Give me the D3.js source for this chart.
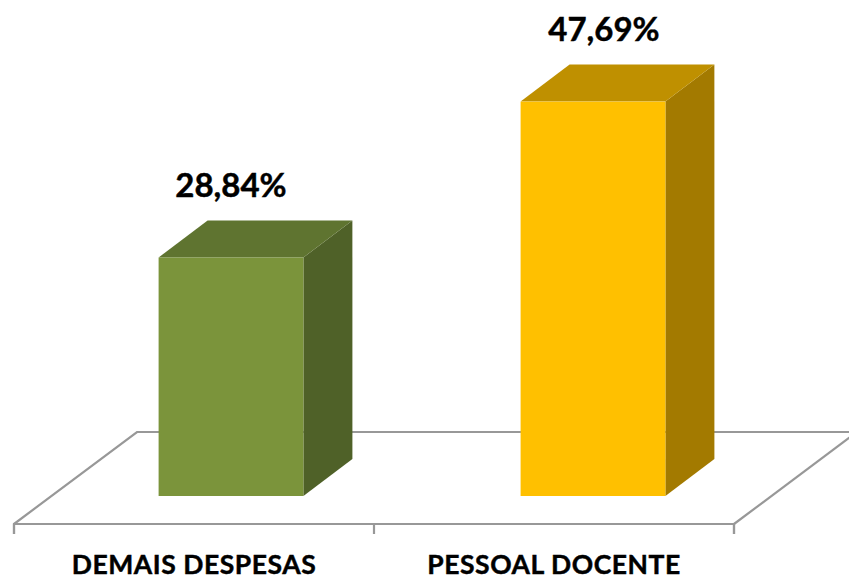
<!DOCTYPE html>
<html>
<head>
<meta charset="utf-8">
<script src="https://cdn.jsdelivr.net/npm/d3@7"></script>
<style>
    html, body { margin: 0; padding: 0; background: #fff; }
    svg { display: block; }
    text { font-family: Lato, "Open Sans", sans-serif; font-weight: 700; fill: #000; stroke: #000; stroke-width: 0.45px; }
</style>
</head>
<body>
<div id="chart"></div>
<script>
const categories = ["DEMAIS DESPESAS", "PESSOAL DOCENTE"];
const values = [28.84, 47.69];
const valueLabels = ["28,84%", "47,69%"];

const width = 849, height = 577;
const floorFront = 524, floorLeft = 14, floorRight = 734;
// 3d offsets: whole floor depth, bar position on the floor, bar depth
const floorDx = 123, floorDy = -92;
const barDx = 37.5, barDy = -28;
const depthDx = 49, depthDy = -37;

const svg = d3.select("#chart").append("svg")
    .attr("width", width)
    .attr("height", height);

// bars run a little wider than the floor ticks
const xScale = d3.scaleBand()
    .domain(categories)
    .range([floorLeft - 1.5, floorRight + 2.5])
    .paddingInner(0.6)
    .paddingOuter(0.3);

const yScale = d3.scaleLinear()
    .domain([0, 50])
    .range([floorFront + barDy, floorFront + barDy - 413.5]);

// value labels are not centred on the bars
const labelX = d3.scalePoint().domain(categories).range([231, 604]);

const front = d3.scaleOrdinal().domain(categories).range(["#7b943b", "#ffc000"]);
const top3d = d3.scaleOrdinal().domain(categories).range(["#5f7430", "#bf9000"]);
const side = d3.scaleOrdinal().domain(categories).range(["#4f6128", "#a37a00"]);

// floor, back edge and sides
const line = d3.line();
svg.append("path")
    .attr("d", line([
        [floorLeft, floorFront],
        [floorLeft + floorDx, floorFront + floorDy],
        [floorRight + floorDx, floorFront + floorDy],
        [floorRight, floorFront]
    ]))
    .attr("fill", "none")
    .attr("stroke", "#989898")
    .attr("stroke-width", 2.2);

// x axis, ticks sit on the band edges so use a separate scale
const edgeScale = d3.scaleLinear().domain([0, categories.length]).range([floorLeft, floorRight]);
const axis = svg.append("g")
    .attr("transform", "translate(0," + floorFront + ")")
    .call(d3.axisBottom(edgeScale)
        .tickValues(d3.range(categories.length + 1))
        .tickFormat("")
        .tickSize(10)
        .offset(0));
axis.selectAll("path, line").attr("stroke", "#989898").attr("stroke-width", 2.2);

const bars = svg.selectAll(".bar")
    .data(categories)
    .enter().append("g")
    .attr("class", "bar")
    .attr("transform", "translate(" + barDx + ",0)");

const barTop = function (d, i) { return yScale(values[i]); };

// right side of the bar
bars.append("path")
    .attr("fill", function (d) { return side(d); })
    .attr("d", function (d, i) {
        const x1 = xScale(d) + xScale.bandwidth();
        return line([
            [x1, barTop(d, i)],
            [x1 + depthDx, barTop(d, i) + depthDy],
            [x1 + depthDx, yScale(0) + depthDy],
            [x1, yScale(0)]
        ]) + "Z";
    });

// top of the bar
bars.append("path")
    .attr("fill", function (d) { return top3d(d); })
    .attr("d", function (d, i) {
        const x0 = xScale(d), x1 = x0 + xScale.bandwidth();
        return line([
            [x0, barTop(d, i)],
            [x0 + depthDx, barTop(d, i) + depthDy],
            [x1 + depthDx, barTop(d, i) + depthDy],
            [x1, barTop(d, i)]
        ]) + "Z";
    });

// front
bars.append("rect")
    .attr("x", function (d) { return xScale(d); })
    .attr("y", barTop)
    .attr("width", xScale.bandwidth())
    .attr("height", function (d, i) { return yScale(0) - yScale(values[i]); })
    .attr("fill", function (d) { return front(d); });

// value labels
svg.selectAll(".val")
    .data(categories)
    .enter().append("text")
    .attr("class", "val")
    .attr("x", function (d) { return labelX(d); })
    .attr("y", function (d, i) { return barTop(d, i) - 60.5; })
    .attr("text-anchor", "middle")
    .attr("font-size", 33)
    .text(function (d, i) { return valueLabels[i]; });

// category labels, centred under the floor ticks
svg.selectAll(".cat")
    .data(categories)
    .enter().append("text")
    .attr("class", "cat")
    .attr("x", function (d, i) { return edgeScale(i + 0.5); })
    .attr("y", 574)
    .attr("text-anchor", "middle")
    .attr("font-size", 26.5)
    .attr("letter-spacing", 0.55)
    .text(function (d) { return d; });
</script>
</body>
</html>
